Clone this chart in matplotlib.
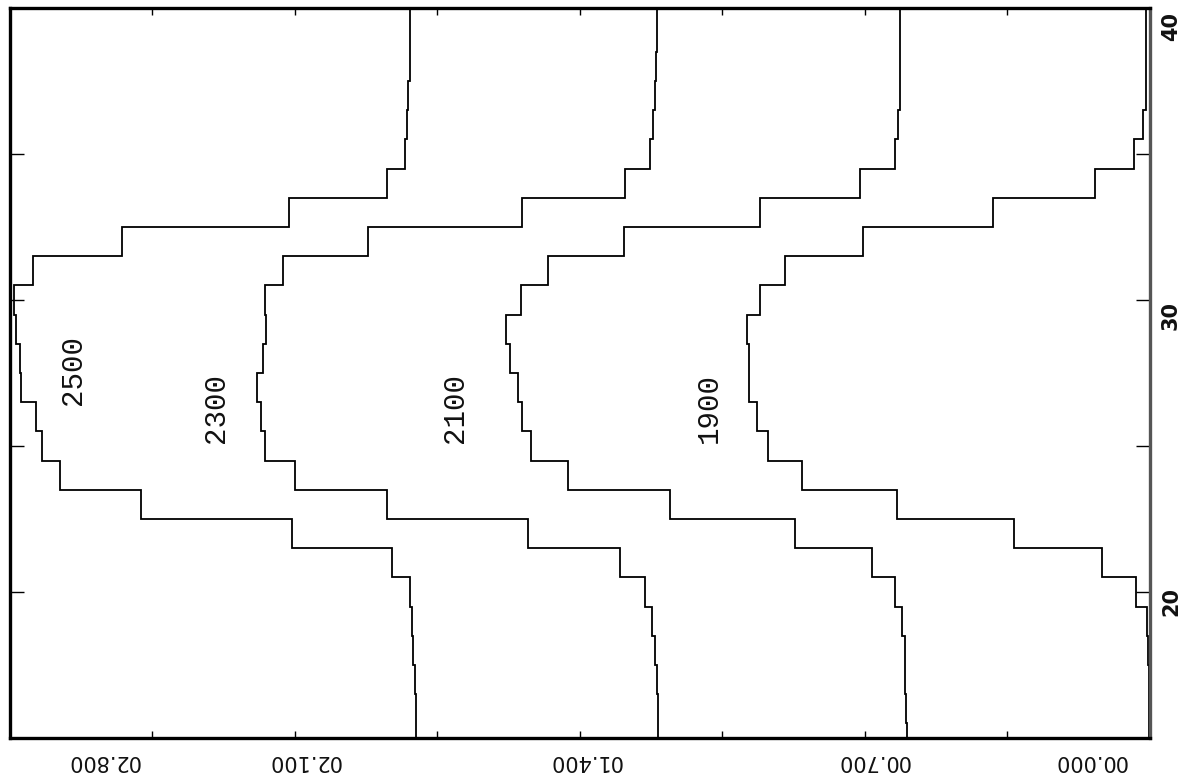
import matplotlib.pyplot as plt
import numpy as np

# step values of each profile, one value per integer position 15..40
positions = np.arange(15, 41)

curve_2500 = [1.803, 1.803, 1.806, 1.811, 1.813, 1.818, 1.862, 2.108, 2.477, 2.678,
              2.722, 2.737, 2.774, 2.776, 2.784, 2.789, 2.744, 2.526, 2.115, 1.875,
              1.830, 1.826, 1.823, 1.818, 1.818, 1.818]
curve_2300 = [1.209, 1.209, 1.211, 1.216, 1.224, 1.241, 1.302, 1.528, 1.875, 2.101,
              2.174, 2.184, 2.194, 2.179, 2.170, 2.174, 2.130, 1.921, 1.543, 1.290,
              1.229, 1.221, 1.216, 1.214, 1.211, 1.211]
curve_2100 = [0.597, 0.600, 0.602, 0.602, 0.609, 0.627, 0.683, 0.872, 1.179, 1.430,
              1.521, 1.543, 1.553, 1.572, 1.582, 1.545, 1.479, 1.292, 0.958, 0.713,
              0.627, 0.619, 0.614, 0.614, 0.614, 0.614]
curve_1900 = [0.002, 0.002, 0.002, 0.005, 0.007, 0.034, 0.118, 0.334, 0.622, 0.855,
              0.939, 0.966, 0.985, 0.985, 0.990, 0.958, 0.897, 0.705, 0.386, 0.135,
              0.039, 0.017, 0.010, 0.010, 0.010, 0.010]

curves = [curve_2500, curve_2300, curve_2100, curve_1900]
curve_names = ['2500', '2300', '2100', '1900']
name_value = [2.646, 2.295, 1.708, 1.084]
name_pos = [27.6, 26.3, 26.3, 26.3]

value_ticks = [0.0, 0.7, 1.4, 2.1, 2.8]
value_ticklabels = ['00.000', '00.700', '01.400', '02.100', '02.800']
value_label_shift = [-60, 8, 5, 9, 93]   # px along the axis

pos_ticks = [20, 30, 40]
pos_ticklabels = ['20', '30', '40']
pos_label_shift = [-9, -15, -19]         # px along the axis

fig = plt.figure(figsize=(11.86, 7.75), dpi=100)
ax = fig.add_axes([0.0084, 0.0477, 0.9612, 0.942])

edges = np.append(positions - 0.5, positions[-1] + 0.5)
for vals in curves:
    ax.stairs(vals, edges, orientation='horizontal', baseline=None,
              color='black', linewidth=1.3)

for name, v, p in zip(curve_names, name_value, name_pos):
    ax.text(v, p, name, rotation=90, ha='center', va='center',
            family='Liberation Mono', fontsize=21, color='#111111')

ax.set_xlim(2.8, 0.0)
ax.set_ylim(15, 40)

ax.set_xticks(np.arange(0, 2.81, 0.35))
ax.set_yticks(np.arange(15, 41, 5))
ax.tick_params(axis='x', direction='in', length=5, width=1,
               top=True, bottom=True, labelbottom=False)
ax.tick_params(axis='y', direction='in', length=10, width=1,
               left=True, right=True, labelleft=False)
for sp in ax.spines.values():
    sp.set_linewidth(2.4)
ax.spines['right'].set_color('#555555')

pt = 72 / fig.dpi
for v, lab, dx in zip(value_ticks, value_ticklabels, value_label_shift):
    ax.annotate(lab, xy=(v, 0), xycoords=('data', 'axes fraction'),
                xytext=(dx * pt, -23 * pt), textcoords='offset points',
                rotation=180, ha='center', va='center',
                family='DejaVu Sans', fontsize=15, color='#111111')

for p, lab, dy in zip(pos_ticks, pos_ticklabels, pos_label_shift):
    ax.annotate(lab, xy=(1, p), xycoords=('axes fraction', 'data'),
                xytext=(21 * pt, dy * pt), textcoords='offset points',
                rotation=90, ha='center', va='center',
                family='DejaVu Sans', fontsize=15, fontweight='bold',
                color='#111111')

fig.savefig('out.png', dpi=100)
